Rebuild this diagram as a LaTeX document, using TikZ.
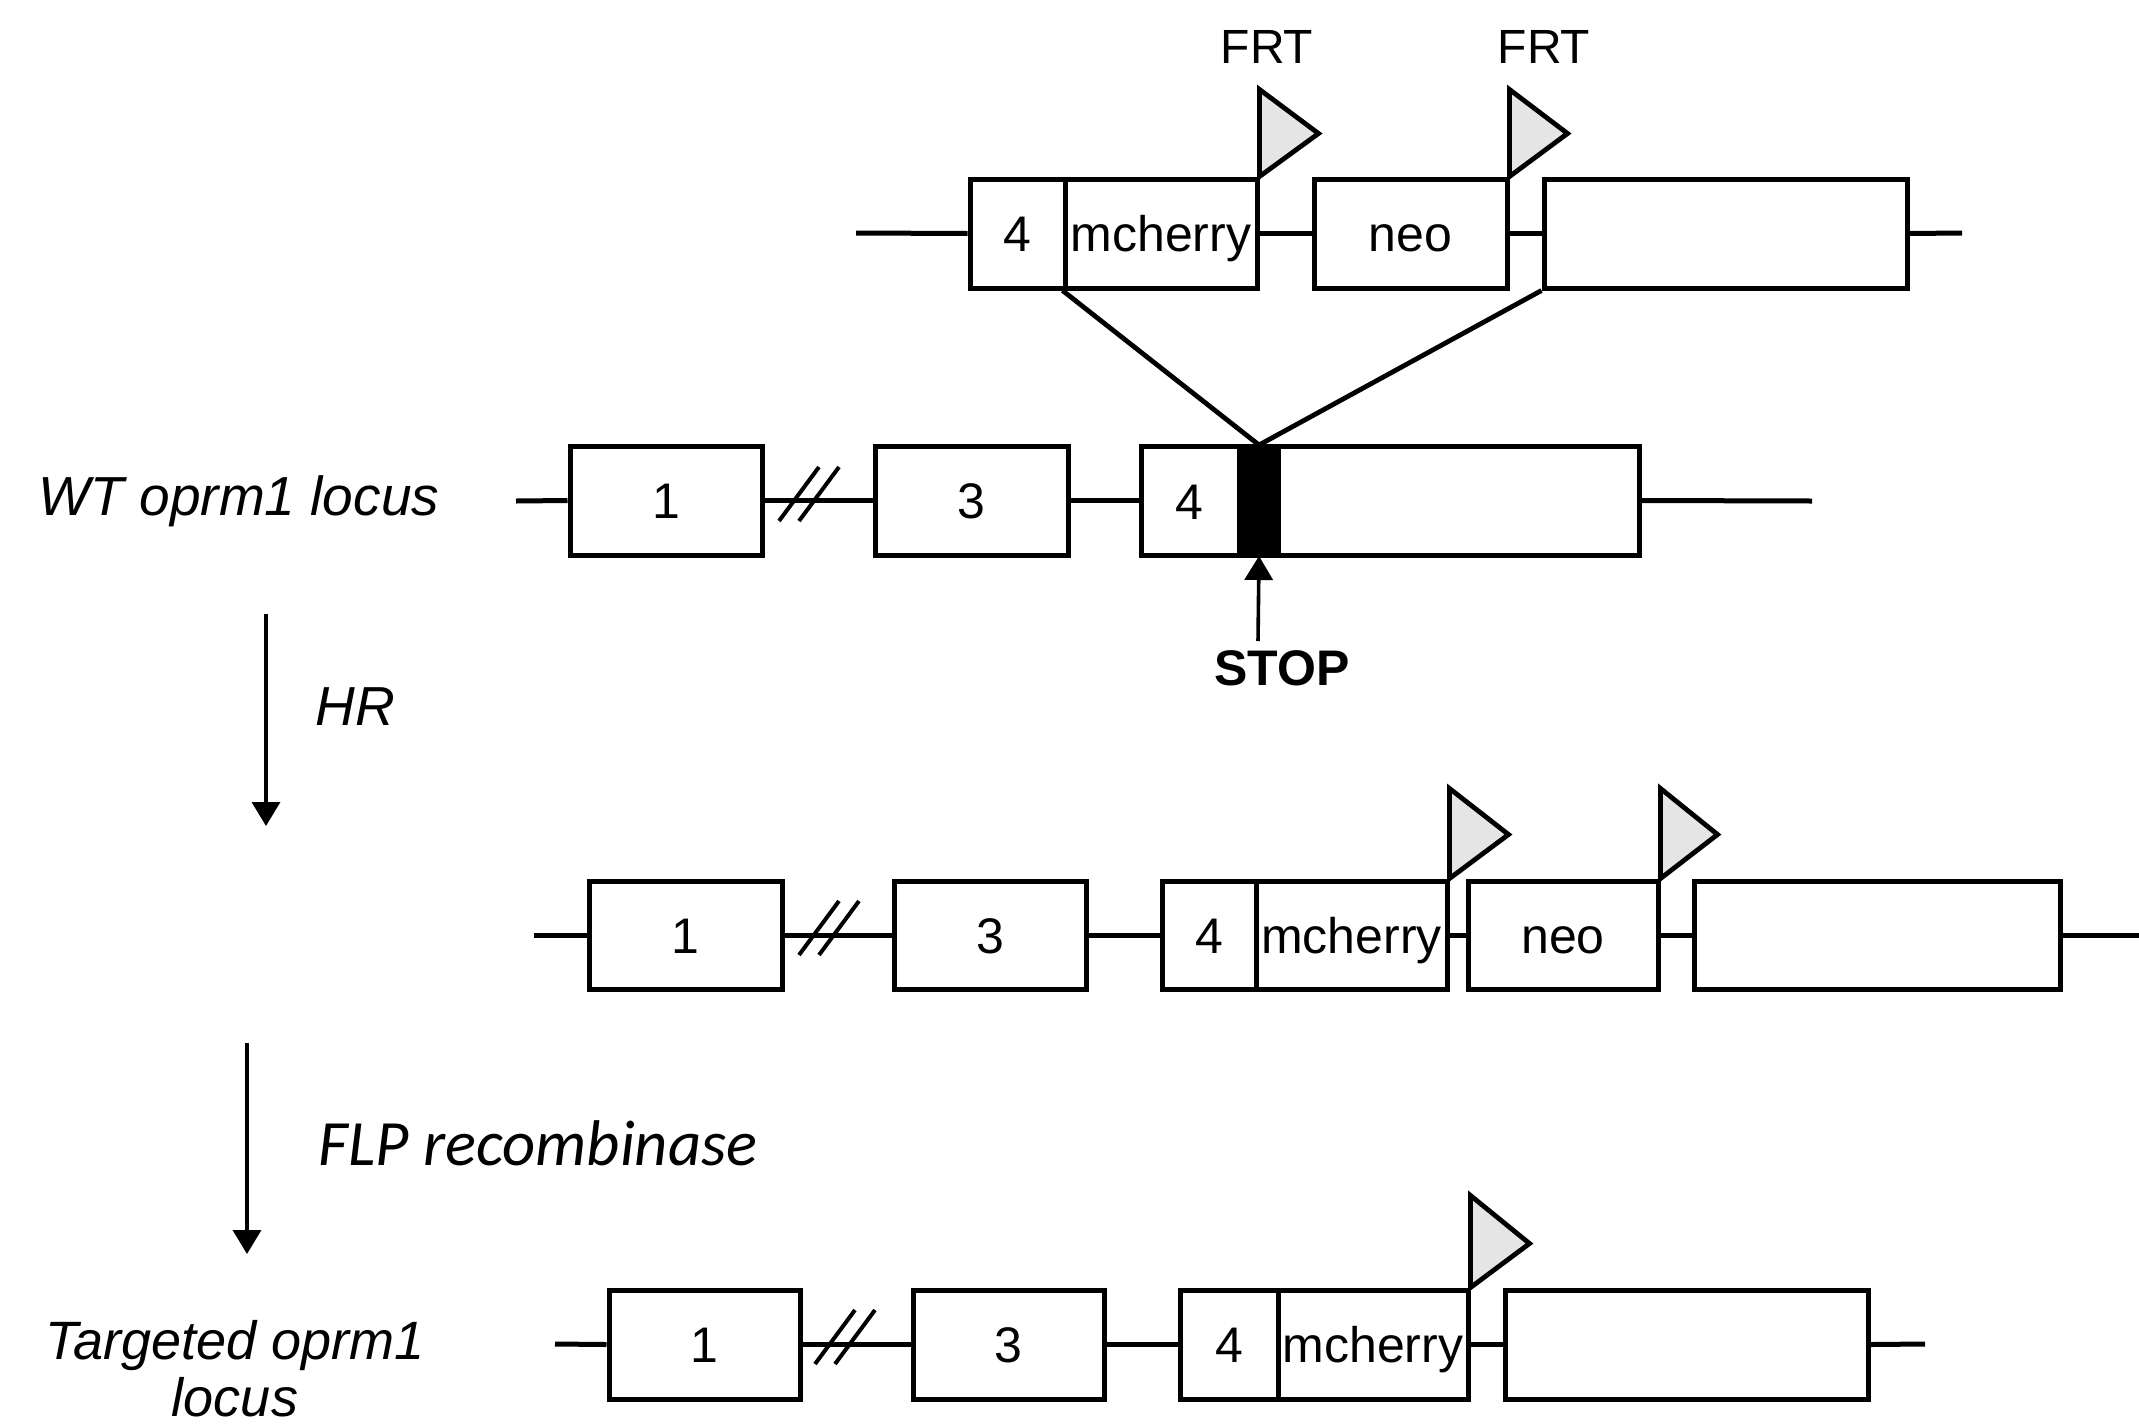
\documentclass[tikz,border=0pt]{standalone}
\usepackage{fontspec}
\setmainfont{Liberation Sans}
\newfontfamily\calfont{Carlito}
\usetikzlibrary{arrows.meta}
\tikzset{
  exon/.style={draw, line width=2.5pt, fill=white, inner sep=0pt, text height=18pt, text depth=0pt, font=\fontsize{25}{30}\selectfont},
  bb/.style={line width=2.5pt},
  cross/.style={line width=2.4pt},
  slashline/.style={line width=2pt},
  frt/.style={draw, line width=2.4pt, fill=black!10, line join=miter},
  arr/.style={line width=1.8pt, -{Triangle[length=12pt, width=14pt]}},
  lab/.style={font=\fontsize{27.5}{32}\selectfont\itshape, inner sep=0pt},
  frtlab/.style={font=\fontsize{24}{28}\selectfont, inner sep=0pt},
}
\newcommand\exon[6]{\node[exon, minimum width={(#3-#2)*0.5pt}, minimum height={(#5-#4)*0.5pt}] (#1) at ({(#2+#3)/2},{(#4+#5)/2}) {#6};}
\begin{document}
\begin{tikzpicture}[x=0.5pt, y=-0.5pt]
\useasboundingbox (0,0) rectangle (2139,1424);

% ---------- Row 0: targeting construct ----------
\coordinate (r0s) at (856,233);
\coordinate (r0e) at (1962,233);
\exon{r0a}{970}{1065}{179}{288}{4}
\exon{r0m}{1065}{1257}{179}{288}{mcherry}
\exon{r0n}{1314}{1507}{179}{288}{neo}
\exon{r0l}{1544}{1907}{179}{288}{}
\draw[bb] (r0s) -- (r0a.west);
\draw[bb] (r0m.east) -- (r0n.west);
\draw[bb] (r0n.east) -- (r0l.west);
\draw[bb] (r0l.east) -- (r0e);
\draw[frt] (r0m.north east) -- ++(0,-87) -- ++(59,44) -- cycle;
\draw[frt] (r0n.north east) -- ++(0,-87) -- ++(58,44) -- cycle;
\node[frtlab] (frt1) at (1267,47) {FRT};
\node[frtlab] (frt2) at (1544,47) {FRT};

% ---------- Row 1: WT locus ----------
\node[lab] (wt) at (239,501) {WT oprm1 locus};
\coordinate (r1s) at (516,501);
\coordinate (r1e) at (1812,501);
\exon{r1a}{570}{762}{446}{555}{1}
\exon{r1b}{875}{1068}{446}{555}{3}
\exon{r1c}{1141}{1639}{446}{555}{}
\node[font=\fontsize{25}{30}\selectfont, inner sep=0pt, text height=18pt, text depth=0pt] (r1four) at (1189,501) {4};
\node[fill=black, draw=black, line width=1pt, inner sep=0pt, minimum width=21pt, minimum height={109*0.5pt}] (bar) at (1259,500.5) {};
\draw[bb] (r1s) -- (r1a.west);
\draw[bb] (r1a.east) -- (r1b.west);
\draw[bb] (r1b.east) -- (r1c.west);
\draw[bb] (r1c.east) -- (r1e);
\coordinate (s1) at (809,501);
\draw[slashline] ([shift={(-30,20)}]s1) -- ([shift={(10,-34)}]s1);
\draw[slashline] ([shift={(-10,20)}]s1) -- ([shift={(30,-34)}]s1);
% insertion lines
\draw[cross] (r0m.south west) -- (bar.north);
\draw[cross] (r0l.south west) -- (bar.north);
% STOP
\node[font=\fontsize{25}{30}\selectfont\bfseries, inner sep=0pt] (stop) at (1282,668) {STOP};
\coordinate (stopa) at (1258,641);
\draw[arr] (stopa) -- (bar.south);

% HR arrow
\coordinate (hr1) at (266,614);
\coordinate (hr2) at (266,826);
\draw[arr] (hr1) -- (hr2);
\node[lab, anchor=west] (hr) at (315,707) {HR};

% ---------- Row 2: after HR ----------
\coordinate (r2s) at (534,935);
\coordinate (r2e) at (2139,935);
\exon{r2a}{589}{782}{881}{989}{1}
\exon{r2b}{894}{1086}{881}{989}{3}
\exon{r2c}{1162}{1256}{881}{989}{4}
\exon{r2m}{1256}{1447}{881}{989}{mcherry}
\exon{r2n}{1468}{1658}{881}{989}{neo}
\exon{r2l}{1694}{2060}{881}{989}{}
\draw[bb] (r2s) -- (r2a.west);
\draw[bb] (r2a.east) -- (r2b.west);
\draw[bb] (r2b.east) -- (r2c.west);
\draw[bb] (r2m.east) -- (r2n.west);
\draw[bb] (r2n.east) -- (r2l.west);
\draw[bb] (r2l.east) -- (r2e);
\coordinate (s2) at (829,935);
\draw[slashline] ([shift={(-30,20)}]s2) -- ([shift={(10,-34)}]s2);
\draw[slashline] ([shift={(-10,20)}]s2) -- ([shift={(30,-34)}]s2);
\draw[frt] (r2m.north east) -- ++(0,-90) -- ++(59,46) -- cycle;
\draw[frt] (r2n.north east) -- ++(0,-90) -- ++(57,46) -- cycle;

% FLP arrow
\coordinate (fl1) at (247,1043);
\coordinate (fl2) at (247,1254);
\draw[arr] (fl1) -- (fl2);
\node[inner sep=0pt, anchor=west, font=\fontsize{32.3}{36}\selectfont\calfont\itshape] (flp) at (318,1143) {FLP recombinase};

% ---------- Row 3: targeted locus ----------
\node[lab, align=center, font=\fontsize{27}{28.5}\selectfont\itshape] (tg) at (235,1369) {Targeted oprm1\\locus};
\coordinate (r3s) at (555,1344);
\coordinate (r3e) at (1925,1344);
\exon{r3a}{609}{800}{1290}{1399}{1}
\exon{r3b}{913}{1104}{1290}{1399}{3}
\exon{r3c}{1180}{1278}{1290}{1399}{4}
\exon{r3m}{1278}{1468}{1290}{1399}{mcherry}
\exon{r3l}{1505}{1868}{1290}{1399}{}
\draw[bb] (r3s) -- (r3a.west);
\draw[bb] (r3a.east) -- (r3b.west);
\draw[bb] (r3b.east) -- (r3c.west);
\draw[bb] (r3m.east) -- (r3l.west);
\draw[bb] (r3l.east) -- (r3e);
\coordinate (s3) at (845,1344);
\draw[slashline] ([shift={(-30,20)}]s3) -- ([shift={(10,-34)}]s3);
\draw[slashline] ([shift={(-10,20)}]s3) -- ([shift={(30,-34)}]s3);
\draw[frt] (r3m.north east) -- ++(0,-92) -- ++(59,48) -- cycle;
\end{tikzpicture}
\end{document}
